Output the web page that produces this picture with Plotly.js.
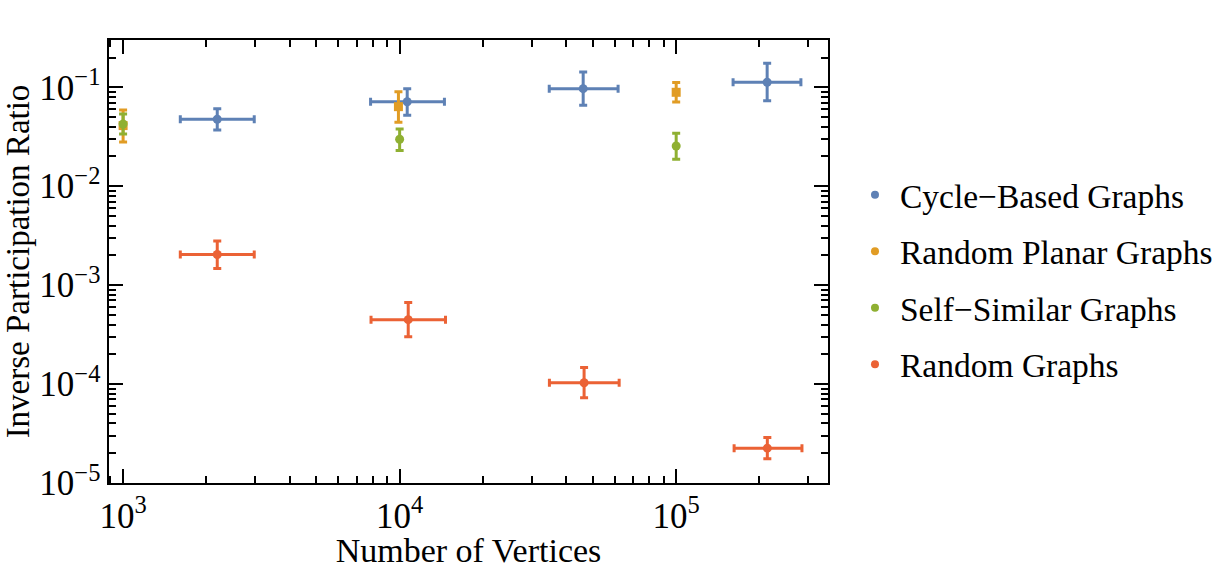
<!DOCTYPE html>
<html>
<head>
<meta charset="utf-8">
<script src="https://cdn.plot.ly/plotly-3.0.1.min.js"></script>
<style>
  html, body { margin: 0; padding: 0; background: #fff; }
  #chart { width: 1223px; height: 569px; }
</style>
</head>
<body>
<div id="chart"></div>
<script>
// Inverse participation ratio against graph size, four graph families.

const seriesNames = ["Cycle\u2212Based Graphs", "Random Planar Graphs", "Self\u2212Similar Graphs", "Random Graphs"];
const seriesColors = ["#5E81B5", "#E19C24", "#8FB032", "#EB6235"];

// Cycle-based graphs
const cycleX     = [2190, 10650, 46100, 213300];
const cycleXLow  = [1610, 7850, 34750, 160600];
const cycleXHigh = [2980, 14520, 61650, 282500];
const cycleY     = [0.0475, 0.0715, 0.0968, 0.1123];
const cycleYLow  = [0.0370, 0.0521, 0.0657, 0.0733];
const cycleYHigh = [0.0608, 0.0968, 0.143, 0.175];

// Random planar graphs
const planarX     = [1000, 9900, 100000];
const planarY     = [0.041, 0.0637, 0.089];
const planarYLow  = [0.028, 0.0443, 0.071];
const planarYHigh = [0.059, 0.0903, 0.112];

// Self-similar graphs
const selfSimX     = [1000, 10000, 100000];
const selfSimY     = [0.0425, 0.0298, 0.0255];
const selfSimYLow  = [0.0337, 0.0229, 0.0187];
const selfSimYHigh = [0.0537, 0.0379, 0.0343];

// Random graphs
const randomX     = [2190, 10740, 46450, 213600];
const randomXLow  = [1610, 7880, 34800, 162000];
const randomXHigh = [2980, 14650, 62200, 285000];
const randomY     = [0.00204, 0.000448, 0.000103, 0.0000225];
const randomYLow  = [0.00147, 0.000300, 0.0000729, 0.0000176];
const randomYHigh = [0.00279, 0.000669, 0.000147, 0.0000288];

const serif = "Liberation Serif, Times New Roman, serif";

function up(v, hi) { return v.map((d, i) => hi[i] - d); }
function down(v, lo) { return v.map((d, i) => d - lo[i]); }

function errBar(v, lo, hi, color) {
  return {
    type: "data", symmetric: false,
    array: up(v, hi), arrayminus: down(v, lo),
    color: color, thickness: 3, width: 4
  };
}

function series(x, y, color, symbol, size, ex, ey) {
  const t = {
    x: x, y: y, type: "scatter", mode: "markers",
    marker: { color: color, symbol: symbol, size: size },
    showlegend: false, hoverinfo: "skip",
    error_y: ey
  };
  if (ex) t.error_x = ex;
  return t;
}

const traces = [
  series(cycleX, cycleY, seriesColors[0], "circle", 9,
    errBar(cycleX, cycleXLow, cycleXHigh, seriesColors[0]),
    errBar(cycleY, cycleYLow, cycleYHigh, seriesColors[0])),
  series(planarX, planarY, seriesColors[1], "square", 9, null,
    errBar(planarY, planarYLow, planarYHigh, seriesColors[1])),
  series(selfSimX, selfSimY, seriesColors[2], "circle", 9, null,
    errBar(selfSimY, selfSimYLow, selfSimYHigh, seriesColors[2])),
  series(randomX, randomY, seriesColors[3], "circle", 9,
    errBar(randomX, randomXLow, randomXHigh, seriesColors[3]),
    errBar(randomY, randomYLow, randomYHigh, seriesColors[3]))
];

// legend keys: plain dots for each family
seriesNames.forEach((name, i) => {
  traces.push({
    x: [null], y: [null], type: "scatter", mode: "markers",
    name: name, legendgroup: "g" + i,
    marker: { color: seriesColors[i], symbol: "circle", size: 8 },
    showlegend: true, hoverinfo: "skip"
  });
});

const axisCommon = {
  type: "log",
  dtick: 1,
  exponentformat: "power",
  showexponent: "all",
  showgrid: false,
  zeroline: false,
  showline: true,
  linecolor: "#000",
  linewidth: 2,
  mirror: "ticks",
  ticks: "inside",
  ticklen: 14,
  tickwidth: 2,
  tickcolor: "#000",
  tickfont: { family: serif, size: 28, color: "#000" },
  minor: { ticks: "inside", ticklen: 7, tickwidth: 2, tickcolor: "#000", dtick: "D1", showgrid: false }
};

const layout = {
  width: 1223, height: 569,
  paper_bgcolor: "#fff", plot_bgcolor: "#fff",
  margin: { l: 109, r: 395, t: 40, b: 86 },
  font: { family: serif, color: "#000" },
  xaxis: Object.assign({}, axisCommon, {
    range: [2.949, 5.549],
    ticklabelstandoff: 2,
    title: { text: "Number of Vertices", font: { family: serif, size: 34, color: "#000" }, standoff: 4 }
  }),
  yaxis: Object.assign({}, axisCommon, {
    range: [-5, -0.522],
    ticklabelstandoff: 1,
    title: { text: "Inverse Participation Ratio", font: { family: serif, size: 33, color: "#000" }, standoff: 9 }
  }),
  showlegend: true,
  legend: {
    xref: "container", yref: "container",
    x: 0.6950, xanchor: "left",
    y: 0.5080, yanchor: "middle",
    font: { family: serif, size: 33.5, color: "#000" },
    traceorder: "grouped",
    tracegroupgap: 10,
    bgcolor: "rgba(0,0,0,0)",
    borderwidth: 0,
    itemwidth: 40
  }
};

Plotly.newPlot("chart", traces, layout, { displayModeBar: false, staticPlot: true });
</script>
</body>
</html>
